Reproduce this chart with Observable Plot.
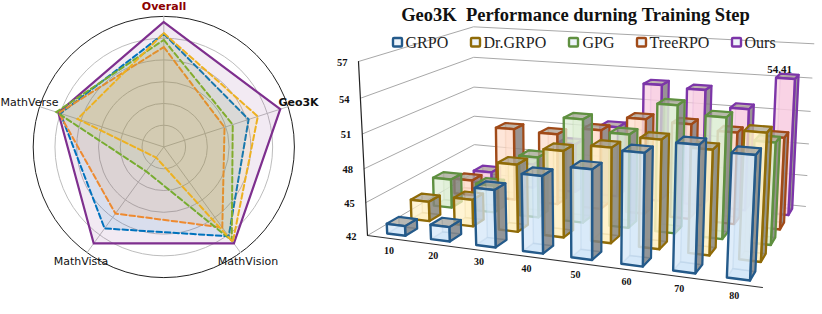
<!DOCTYPE html>
<html>
<head>
<meta charset="utf-8">
<style>html,body{margin:0;padding:0;background:#fff}svg{display:block}</style>
<script src="https://cdn.jsdelivr.net/npm/d3@7"></script>
<script src="https://cdn.jsdelivr.net/npm/@observablehq/plot@0.6"></script>
</head>
<body>
<div id="chart"></div>
<script>
// ---- Radar data (fraction of outer radius) ----
const radarAxes = ["Overall", "Geo3K", "MathVision", "MathVista", "MathVerse"];
const radarOurs = [0.957, 0.9375, 0.913, 0.913, 0.849];
const radarBlue = [0.867, 0.683, 0.845, 0.771, 0.832];
const radarOrange = [0.765, 0.489, 0.762, 0.63, 0.845];
const radarGreen = [0.82, 0.555, 0.885, 0.23, 0.866];
const radarYellow = [0.872, 0.757, 0.899, 0.1, 0.695];
const ringLevels = [1, 2, 3, 4, 5];

// ---- Bar data ----
const steps = [10, 20, 30, 40, 50, 60, 70, 80];
const yTicks = [42, 45, 48, 51, 54, 57];
const grpo = [42.89, 43.3, 47.03, 48.64, 49.6, 51.3, 52.29, 51.9];
const drGrpo = [43.83, 44.47, 48.07, 49.65, 50.3, 51.33, 50.88, 52.58];
const gpg = [44.74, 44.58, 47.63, 51.4, 50.42, 53.23, 52.53, 50.8];
const treeRpo = [43.48, 48.9, 48.76, 49.48, 50.82, 50.7, 50.3, 50.2];
const ours = [43.16, 44.4, 46.8, 48.81, 53.08, 52.9, 51.46, 54.41];

const seriesNames = ["GRPO", "Dr.GRPO", "GPG", "TreeRPO", "Ours"];
const seriesValues = [grpo, drGrpo, gpg, treeRpo, ours];
const seriesStroke = ["#245a8a", "#8f6b08", "#5f9040", "#a04a18", "#7c35a8"];
const seriesFill = ["#d3e6f8", "#fff0c4", "#dcedd2", "#fddccb", "#f8cce0"];
const legendSwatchX = [392, 470, 568, 636, 731];
const legendTextX = [405, 483, 582, 649, 744];

// ---- Radar geometry ----
const cx = 163.3, cy = 146.5, R = 130.6;
const radarPoint = (frac, i) => {
  const a = (90 - 72 * i) * Math.PI / 180;
  return {x: cx + R * frac * Math.cos(a), y: cy - R * frac * Math.sin(a)};
};
const radarSeries = [
  {vals: radarOurs, color: "#7E2F8E", dash: null, w: 2.2, op: 0.1},
  {vals: radarBlue, color: "#0072BD", dash: "5.5,3", w: 2, op: 0.1},
  {vals: radarOrange, color: "#EE8A30", dash: "5.5,3", w: 2, op: 0.13},
  {vals: radarGreen, color: "#77AC30", dash: "5.5,3", w: 2, op: 0.1},
  {vals: radarYellow, color: "#EDB120", dash: "5.5,3", w: 2, op: 0.1}
];

// ---- Perspective map for the 3D bars ----
const project = (u, v, val) => {
  const w = (val - 42) / 15;
  const X = 367 + 293.0 * u + 206.9 * v - 33.1 * w;
  const Y = 235 + 13.6 * u - 26.8 * v - 178.1 * w;
  const W = 1 - 0.1338 * u + 0.2107 * v - 0.0673 * w;
  return {x: X / W - 12.5 * u * w, y: Y / W};
};
const n = steps.length;
const m = seriesNames.length;
const faces = [];
let faceId = 0;
const addFace = (corners, style) => {
  const id = faceId++;
  for (const [u, v, val] of corners) {
    const p = project(u, v, val);
    faces.push({x: p.x + 40 * v * u * (1 - u), y: p.y, id, ...style});
  }
};
for (let s = m - 1; s >= 0; s--) {
  const v0 = (s + 0.25) / m, v1 = (s + 0.73) / m;
  for (let i = 0; i < n; i++) {
    const u0 = (i + 0.31) / n, u1 = (i + 0.73) / n;
    const t = seriesValues[s][i], c = seriesStroke[s], f = seriesFill[s];
    addFace([[u0, v0, 42], [u1, v0, 42], [u1, v1, 42], [u0, v1, 42]], {fill: f, stroke: c, fo: 0.8, so: 0.25, sw: 1.5});
    addFace([[u0, v1, 42], [u1, v1, 42], [u1, v1, t], [u0, v1, t]], {fill: f, stroke: c, fo: 0.5, so: 0.25, sw: 1.5});
    addFace([[u1, v0, 42], [u1, v1, 42], [u1, v1, t], [u1, v0, t]], {fill: "#6a6a6a", stroke: c, fo: 0.68, so: 1, sw: 2.2});
    addFace([[u0, v0, t], [u1, v0, t], [u1, v1, t], [u0, v1, t]], {fill: "#9a9488", stroke: c, fo: 0.62, so: 1, sw: 2.2});
    addFace([[u0, v0, 42], [u1, v0, 42], [u1, v0, t], [u0, v0, t]], {fill: f, stroke: c, fo: 0.72, so: 1, sw: 2.4});
  }
}

// grid lines on the two walls
const grid = yTicks.flatMap(t => [
  {...project(0, 0, t), t}, {...project(0, 1, t), t}, {...project(1, 1, t), t}
]);
const serif = "Liberation Serif";
const sans = "DejaVu Sans";

const marks = [
  // radar
  Plot.dot(ringLevels, {x: () => cx, y: () => cy, r: d => d * R / 6, stroke: "#bdbdbd", strokeWidth: 1, fill: "none"}),
  Plot.dot([6], {x: () => cx, y: () => cy, r: d => d * R / 6, stroke: "#222", strokeWidth: 1, fill: "none"}),
  ...radarAxes.map((name, i) => Plot.line([radarPoint(0, i), radarPoint(1, i)], {x: "x", y: "y", stroke: "#bdbdbd", strokeWidth: 1})),
  ...radarSeries.map(s => Plot.line(s.vals.map(radarPoint), {
    x: "x", y: "y", curve: "linear-closed", stroke: s.color, strokeWidth: s.w,
    strokeDasharray: s.dash, fill: s.color, fillOpacity: s.op, strokeLinejoin: "miter", strokeMiterlimit: 10
  })),
  Plot.text(["Overall"], {x: () => 163.5, y: () => 6, text: d => d, fontFamily: sans, fontWeight: "bold", fontSize: 11, fill: "#8b0000"}),
  Plot.text(["Geo3K"], {x: () => 298, y: () => 102, text: d => d, fontFamily: sans, fontWeight: "bold", fontSize: 11, fill: "#111"}),
  Plot.text(["MathVerse"], {x: () => 29, y: () => 102, text: d => d, fontFamily: sans, fontSize: 11, fill: "#111"}),
  Plot.text(["MathVista"], {x: () => 80.5, y: () => 261, text: d => d, fontFamily: sans, fontSize: 11, fill: "#111"}),
  Plot.text(["MathVision"], {x: () => 247.5, y: () => 261, text: d => d, fontFamily: sans, fontSize: 11, fill: "#111"}),

  // 3D walls
  Plot.line(grid, {x: "x", y: "y", z: "t", stroke: "#a8a8a8", strokeWidth: 1}),
  Plot.line([project(0, 0, 42), project(0, 0, 57)], {x: "x", y: "y", stroke: "#222", strokeWidth: 1.2}),
  Plot.line([project(0, 0, 42), project(1, 0, 42)], {x: "x", y: "y", stroke: "#333", strokeWidth: 1.2}),
  // bars
  Plot.line(faces, {
    x: "x", y: "y", z: "id", curve: "linear-closed",
    fill: d => d.fill, stroke: d => d.stroke, fillOpacity: "fo", strokeOpacity: "so", strokeWidth: "sw",
    strokeLinejoin: "round"
  }),
  // axis labels
  Plot.text(yTicks, {
    x: d => project(0, 0, d).x, y: d => project(0, 0, d).y, text: d => String(d), dx: -11, dy: 1,
    textAnchor: "end", fontFamily: serif, fontWeight: "bold", fontSize: 10.5, fill: "#111"
  }),
  Plot.text(steps, {
    x: (d, i) => project((i + 0.5) / n, 0, 42).x, y: (d, i) => project((i + 0.5) / n, 0, 42).y, text: d => String(d), dy: 12,
    fontFamily: serif, fontWeight: "bold", fontSize: 10, fill: "#111"
  }),
  Plot.text([ours[n - 1]], {
    x: () => project((n - 0.48) / n, (m - 0.75) / m, ours[n - 1]).x, y: () => project((n - 0.48) / n, (m - 0.75) / m, ours[n - 1]).y,
    text: d => d.toFixed(2), dx: -4, dy: -9, fontFamily: serif, fontWeight: "bold", fontSize: 11, fill: "#111"
  }),
  // legend
  Plot.rect(seriesNames, {
    x1: (d, i) => legendSwatchX[i] + 1, x2: (d, i) => legendSwatchX[i] + 10, y1: () => 38, y2: () => 46.5,
    fill: (d, i) => "#eef4fa", stroke: (d, i) => seriesStroke[i], strokeWidth: 2.4, rx: 1
  }),
  Plot.text(seriesNames, {
    x: (d, i) => legendTextX[i], y: () => 42, text: d => d, textAnchor: "start",
    fontFamily: serif, fontSize: 16, fill: "#222"
  }),
  Plot.text(["Geo3K  Performance durning Training Step"], {
    x: () => 575, y: () => 15, text: d => d.replace(/ /g, "\u00a0"), fontFamily: serif, fontWeight: "bold", fontSize: 18.5, fill: "#111"
  })
];

const chart = Plot.plot({
  width: 822, height: 314, margin: 0,
  x: {domain: [0, 822], range: [0, 822], axis: null},
  y: {domain: [0, 314], range: [0, 314], axis: null},
  r: {type: "identity"},
  color: {type: "identity"},
  style: {background: "#fff"},
  marks
});
document.getElementById("chart").appendChild(chart);
</script>
</body>
</html>
